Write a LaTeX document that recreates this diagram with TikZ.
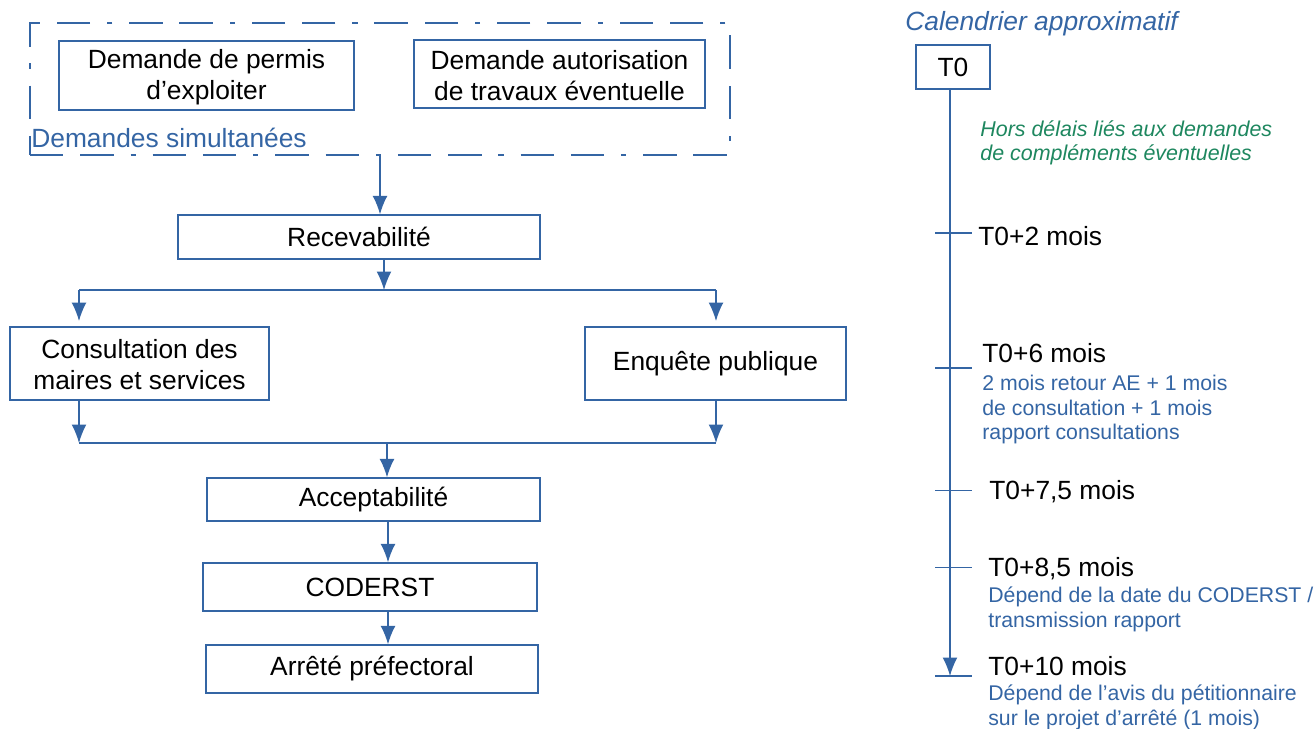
\documentclass[tikz,border=0pt]{standalone}
\usepackage{fontspec}
\setmainfont{Liberation Sans}
\usetikzlibrary{arrows.meta}
\usetikzlibrary{positioning}
\definecolor{lineblue}{RGB}{52,101,164}
\definecolor{notegreen}{RGB}{30,135,95}
\tikzset{
    box/.style={draw=lineblue, line width=0.8pt, inner sep=0pt, align=center,
        font=\fontsize{15}{17.6}\selectfont},
    link/.style={draw=lineblue, line width=0.8pt},
    arr/.style={link, -{Latex[length=10.5pt, width=8.5pt]}},
    tick/.style={draw=lineblue, line width=0.8pt},
    mark label/.style={anchor=base west, inner sep=0pt, font=\fontsize{15}{17.6}\selectfont},
    note/.style={anchor=base west, inner sep=0pt, align=left, text=lineblue,
        font=\fontsize{12.1}{14.2}\selectfont},
}
\begin{document}
\begin{tikzpicture}[x=0.02cm, y=-0.02cm]
            \useasboundingbox (0,0) rectangle (1316,729);

            % Simultaneous requests
            \node[draw=lineblue, line width=0.8pt, minimum width=14cm, minimum height=2.64cm,
                dash pattern=on 19pt off 9.6pt on 19pt off 9.6pt on 3pt off 9.6pt] (sim) at (380,89) {};
            \node[box, minimum width=5.9cm, minimum height=1.38cm] (permis) at (206.5,75.5) {\strut Demande de permis\\d'exploiter};
            \node[box, minimum width=5.82cm, minimum height=1.36cm] (autor) at (559.5,74) {\strut Demande autorisation\\de travaux éventuelle};
            \node[anchor=base west, inner sep=0pt, text=lineblue, font=\fontsize{15}{17}\selectfont] (simlabel) at (31,148) {Demandes simultanées};

            % Procedure
            \node[box, minimum width=7.24cm, minimum height=0.88cm] (recev) at (359,237) {Recevabilité};
            \node[box, minimum width=5.18cm, minimum height=1.46cm] (consult) at (139.5,363.5) {\strut Consultation des\\maires et services};
            \node[box, minimum width=5.22cm, minimum height=1.46cm] (enquete) at (715.5,363.5) {Enquête publique};
            \node[box, minimum width=6.66cm, minimum height=0.86cm] (accept) at (373.5,499.5) {Acceptabilité};
            \node[box, minimum width=6.68cm, minimum height=0.96cm] (coderst) at (370,587) {CODERST};
            \node[box, minimum width=6.64cm, minimum height=0.96cm] (arrete) at (372,669) {Arrêté préfectoral};

            % Relationships
            \coordinate (split) at (384,290);
            \coordinate (splitL) at (79,290);
            \coordinate (splitR) at (716,290);
            \coordinate (join) at (387,443);
            \coordinate (joinL) at (79,443);
            \coordinate (joinR) at (716,443);
            \coordinate (a1) at (388,521);
            \draw[arr] (sim.south) -- (sim.south |- recev.north);
            \draw[arr] (split |- recev.south) -- (split);
            \draw[link] (splitL) -- (splitR);
            \draw[arr, shorten >=3pt] (splitL) -- (splitL |- consult.north);
            \draw[arr, shorten >=3pt] (splitR) -- (splitR |- enquete.north);
            \draw[arr] (joinL |- consult.south) -- (joinL);
            \draw[arr] (joinR |- enquete.south) -- (joinR);
            \draw[link] (joinL) -- (joinR);
            \draw[arr] (join) -- (join |- accept.north);
            \draw[arr] (a1 |- accept.south) -- (a1 |- coderst.north);
            \draw[arr] (a1 |- coderst.south) -- (a1 |- arrete.north);

            % Timeline
            \node[anchor=base west, inner sep=0pt, text=lineblue, font=\fontsize{15}{18}\itshape] (title) at (905,30.5) {Calendrier approximatif};
            \node[box, minimum width=1.48cm, minimum height=0.88cm] (t0) at (953,67) {T0};
            \coordinate (tend) at (950,676);
            \draw[arr] (t0.south -| tend) -- (tend);
            \node[anchor=base west, inner sep=0pt, align=left, text=notegreen,
                font=\fontsize{12.2}{14.2}\itshape] (hors) at (980,161) {Hors délais liés aux demandes\\de compléments éventuelles};

            % Ticks
            \foreach \ty in {233,368,490.5,567.5,676}
                \draw[tick] (935,\ty) -- (972,\ty);

            \node[mark label] (m2) at (978,246) {T0+2 mois};
            \node[mark label] (m6) at (982,363) {T0+6 mois};
            \node[note] (n6) at (982,440) {2 mois retour AE + 1 mois\\de consultation + 1 mois\\rapport consultations};
            \node[mark label] (m75) at (989,500) {T0+7,5 mois};
            \node[mark label] (m85) at (988,577) {T0+8,5 mois};
            \node[note] (n85) at (988,627.5) {Dépend de la date du CODERST /\\transmission rapport};
            \node[mark label] (m10) at (988,675) {T0+10 mois};
            \node[note] (n10) at (988,725) {Dépend de l'avis du pétitionnaire\\sur le projet d'arrêté (1 mois)};
        \end{tikzpicture}
\end{document}
